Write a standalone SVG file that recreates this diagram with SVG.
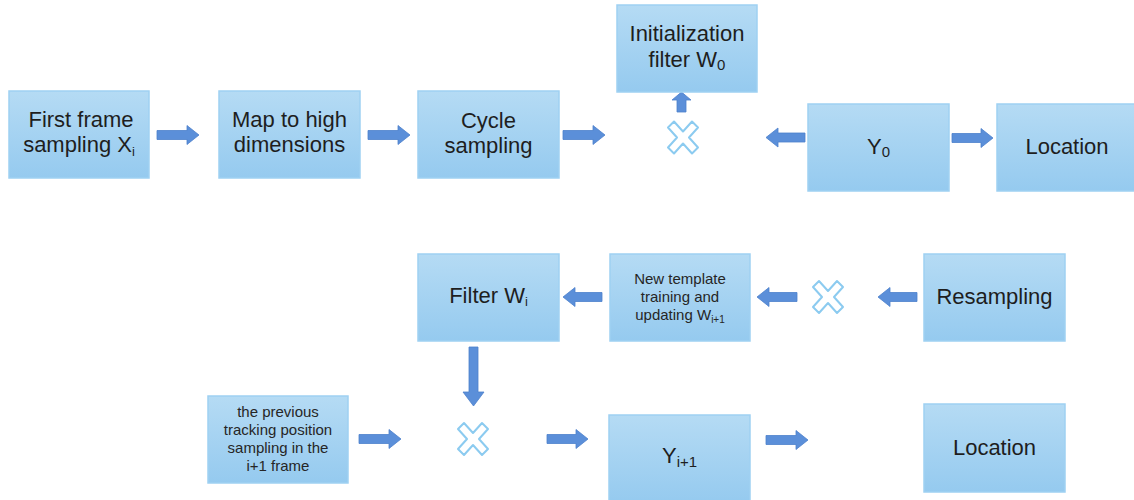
<svg xmlns="http://www.w3.org/2000/svg" width="1134" height="500" viewBox="0 0 1134 500">
<defs>
<linearGradient id="bg" x1="0" y1="0" x2="0" y2="1">
<stop offset="0" stop-color="#b5dbf4"/>
<stop offset="1" stop-color="#95caef"/>
</linearGradient>
<style>
.box{fill:url(#bg);stroke:#9fd1f2;stroke-width:1.5}
.t{font-family:"Liberation Sans",Arial,sans-serif;font-size:22px;fill:#1e1e1e;text-anchor:middle}
.s{font-family:"Liberation Sans",Arial,sans-serif;font-size:15px;fill:#262626;text-anchor:middle}
.arr{fill:#5b8fd9;stroke:#4d80cc;stroke-width:0.8}
.x{fill:#fff;stroke:#8ccbf0;stroke-width:2;stroke-linejoin:round}
</style>
<path id="xm" d="M-15,-10 L-9,-16 L0,-6 L9,-16 L15,-10 L6,0 L15,10 L9,16 L0,6 L-9,16 L-15,10 L-6,0 Z"/>
</defs>
<rect width="1134" height="500" fill="#fff"/>

<g id="connectors">
<path class="arr" d="M157,130.5 H187 V125.5 L199,135 L187,144.5 V139.5 H157 Z"/>
<path class="arr" d="M368,130.5 H398 V125.5 L410,135 L398,144.5 V139.5 H368 Z"/>
<path class="arr" d="M563,130.5 H593 V125.5 L605,135 L593,144.5 V139.5 H563 Z"/>
<path class="arr" d="M677,112 V100 H672 L681.5,92 L691,100 H686 V112 Z"/>
<path class="arr" d="M805,133 H778 V128 L766,137.5 L778,147 V142 H805 Z"/>
<path class="arr" d="M952,133.5 H981 V128.5 L993,138 L981,147.5 V142.5 H952 Z"/>
<path class="arr" d="M602,292.5 H575 V287.5 L563,297 L575,306.5 V301.5 H602 Z"/>
<path class="arr" d="M797,292.5 H769 V287.5 L757,297 L769,306.5 V301.5 H797 Z"/>
<path class="arr" d="M917,292.5 H890 V287.5 L878,297 L890,306.5 V301.5 H917 Z"/>
<path class="arr" d="M469,347 V392 H463 L473.5,406 L484,392 H478 V347 Z"/>
<path class="arr" d="M359,434.5 H389 V429.5 L401,439 L389,448.5 V443.5 H359 Z"/>
<path class="arr" d="M547,434.5 H576 V429.5 L588,439 L576,448.5 V443.5 H547 Z"/>
<path class="arr" d="M766,435.5 H796 V430.5 L808,440 L796,449.5 V444.5 H766 Z"/>
</g>

<g id="mult1"><use href="#xm" class="x" transform="translate(683,137.5)"/></g>
<g id="mult2"><use href="#xm" class="x" transform="translate(828,297)"/></g>
<g id="mult3"><use href="#xm" class="x" transform="translate(473,439)"/></g>

<g id="first-frame">
<rect class="box" x="9" y="91" width="140" height="87"/>
<text class="t" x="81" y="127">First frame</text>
<text class="t" x="79" y="152">sampling X<tspan font-size="13" dy="4">i</tspan></text>
</g>
<g id="map-high">
<rect class="box" x="219" y="91" width="141" height="87"/>
<text class="t" x="289.5" y="127">Map to high</text>
<text class="t" x="289.5" y="152">dimensions</text>
</g>
<g id="cycle">
<rect class="box" x="418" y="91" width="141" height="87"/>
<text class="t" x="488.5" y="128">Cycle</text>
<text class="t" x="488.5" y="153">sampling</text>
</g>
<g id="init-filter">
<rect class="box" x="617" y="5" width="140" height="87"/>
<text class="t" x="687" y="41">Initialization</text>
<text class="t" x="687" y="67">filter W<tspan font-size="15" dy="3">0</tspan></text>
</g>
<g id="y0">
<rect class="box" x="808" y="104" width="141" height="87"/>
<text class="t" x="878.5" y="154">Y<tspan font-size="15" dy="3">0</tspan></text>
</g>
<g id="location1">
<rect class="box" x="997" y="104" width="141" height="87"/>
<text class="t" x="1067" y="154">Location</text>
</g>
<g id="filter-wi">
<rect class="box" x="418" y="254" width="141" height="87"/>
<text class="t" x="488.5" y="303">Filter W<tspan font-size="13" dy="3">i</tspan></text>
</g>
<g id="new-template">
<rect class="box" x="610" y="254" width="140" height="87"/>
<text class="s" x="680" y="284">New template</text>
<text class="s" x="680" y="302">training and</text>
<text class="s" x="680" y="320">updating W<tspan font-size="10" dy="3">i+1</tspan></text>
</g>
<g id="resampling">
<rect class="box" x="924" y="254" width="141" height="87"/>
<text class="t" x="994.5" y="304">Resampling</text>
</g>
<g id="previous">
<rect class="box" x="208" y="396" width="140" height="87"/>
<text class="s" x="278" y="417">the previous</text>
<text class="s" x="278" y="435">tracking position</text>
<text class="s" x="278" y="453">sampling in the</text>
<text class="s" x="278" y="471">i+1 frame</text>
</g>
<g id="y-next">
<rect class="box" x="609" y="415" width="141" height="88"/>
<text class="t" x="679.5" y="463">Y<tspan font-size="15" dy="4">i+1</tspan></text>
</g>
<g id="location2">
<rect class="box" x="924" y="404" width="141" height="88"/>
<text class="t" x="994.5" y="455">Location</text>
</g>
</svg>
